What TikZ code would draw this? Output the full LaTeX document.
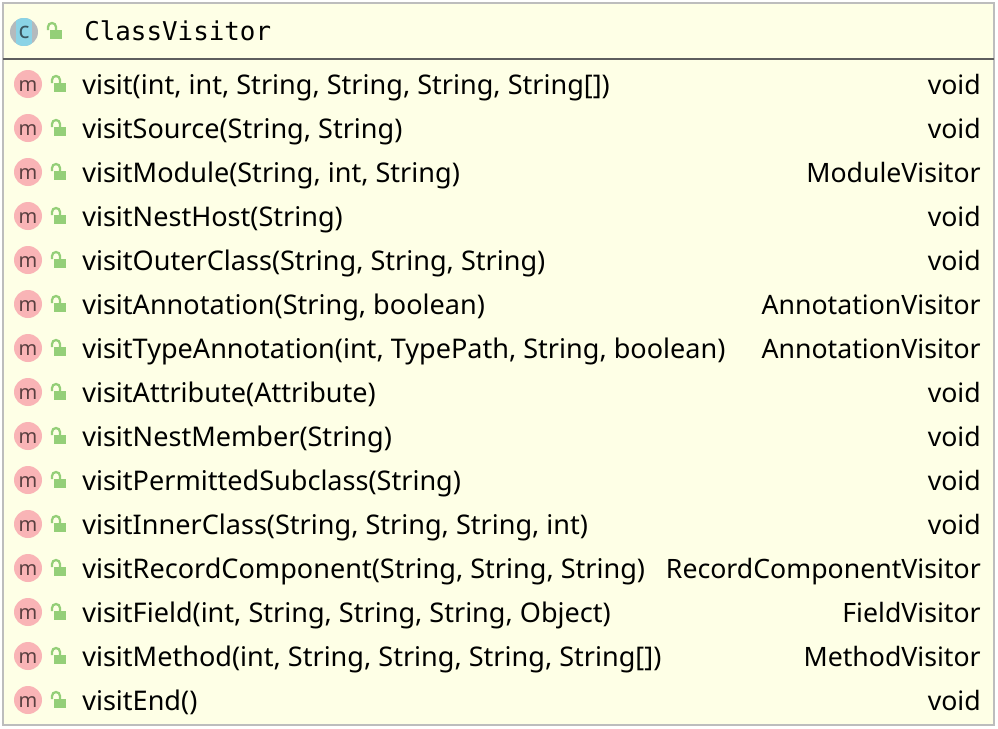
\documentclass[tikz,border=0pt]{standalone}
\usepackage{fontspec}
\setmainfont{Noto Sans}
\setmonofont{DejaVu Sans Mono}
\definecolor{boxfill}{HTML}{FEFFE6}
\definecolor{boxline}{HTML}{BDBDBD}
\definecolor{sepline}{HTML}{5E5E5E}
\definecolor{methodpink}{HTML}{F9B4B6}
\definecolor{methodtext}{HTML}{5A3F40}
\definecolor{lockgreen}{HTML}{94CF78}
\definecolor{classgray}{HTML}{B4BABD}
\definecolor{classcyan}{HTML}{8AD3E6}
\definecolor{classtext}{HTML}{39545F}
\tikzset{
    member/.style={anchor=base west,inner sep=0pt,font=\fontsize{20.3}{22}\selectfont,text=black},
    rettype/.style={anchor=base east,inner sep=0pt,font=\fontsize{20}{22}\selectfont,text=black},
    methodicon/.style={circle,fill=methodpink,minimum size=21pt,inner sep=0pt},
    iconletter/.style={anchor=base,inner sep=0pt,text=methodtext,font=\fontsize{15}{15}\selectfont},
    lockbody/.style={fill=lockgreen,draw=none},
    lockbow/.style={draw=lockgreen,line width=1.7pt},
}
\newcommand{\greenlock}[2]{%
    \fill[lockbody] (#1,#2-1) rectangle (#1+12,#2+8);
    \draw[lockbow] (#1-2,#2-1) -- (#1-2,#2-4) arc[start angle=180,end angle=0,x radius=4,y radius=-4] -- (#1+6,#2-1);
}
\begin{document}
\begin{tikzpicture}[x=0.75pt,y=-0.75pt]
    \useasboundingbox (0,0) rectangle (998,728);
    \fill[white] (0,0) rectangle (998,728);
    \draw[boxline,fill=boxfill,line width=2.2pt] (3,3) rectangle (994,725);
    \draw[sepline,line width=1.6pt] (3,59) -- (994,59);

    % header
    \begin{scope}
        \clip (24,32) circle (14);
        \fill[classgray] (10,18) rectangle (38,46);
        \fill[classcyan] (16,18) rectangle (32,46);
    \end{scope}
    \node[iconletter,text=classtext,font=\fontsize{17}{17}\selectfont] (classicon) at (24,38) {c};
    \greenlock{50}{31}
    \node[member,font=\ttfamily\fontsize{19.4}{20}\selectfont] (classname) at (84,40) {ClassVisitor};

    % methods
    \foreach \sig/\ret [count=\i from 0] in {
        {visit(int, int, String, String, String, String[])}/void,
        {visitSource(String, String)}/void,
        {visitModule(String, int, String)}/ModuleVisitor,
        {visitNestHost(String)}/void,
        {visitOuterClass(String, String, String)}/void,
        {visitAnnotation(String, boolean)}/AnnotationVisitor,
        {visitTypeAnnotation(int, TypePath, String, boolean)}/AnnotationVisitor,
        {visitAttribute(Attribute)}/void,
        {visitNestMember(String)}/void,
        {visitPermittedSubclass(String)}/void,
        {visitInnerClass(String, String, String, int)}/void,
        {visitRecordComponent(String, String, String)}/RecordComponentVisitor,
        {visitField(int, String, String, String, Object)}/FieldVisitor,
        {visitMethod(int, String, String, String, String[])}/MethodVisitor,
        {visitEnd()}/void%
    } {
        \pgfmathsetmacro{\rowy}{84+44*\i}
        \node[methodicon] (icon\i) at (28,\rowy) {};
        \node[iconletter] (letter\i) at (28,\rowy+7.5) {m};
        \greenlock{54}{\rowy}
        \node[member] (sig\i) at (82,\rowy+10) {\sig};
        \node[rettype] (ret\i) at (981,\rowy+10) {\ret};
    }
\end{tikzpicture}
\end{document}
